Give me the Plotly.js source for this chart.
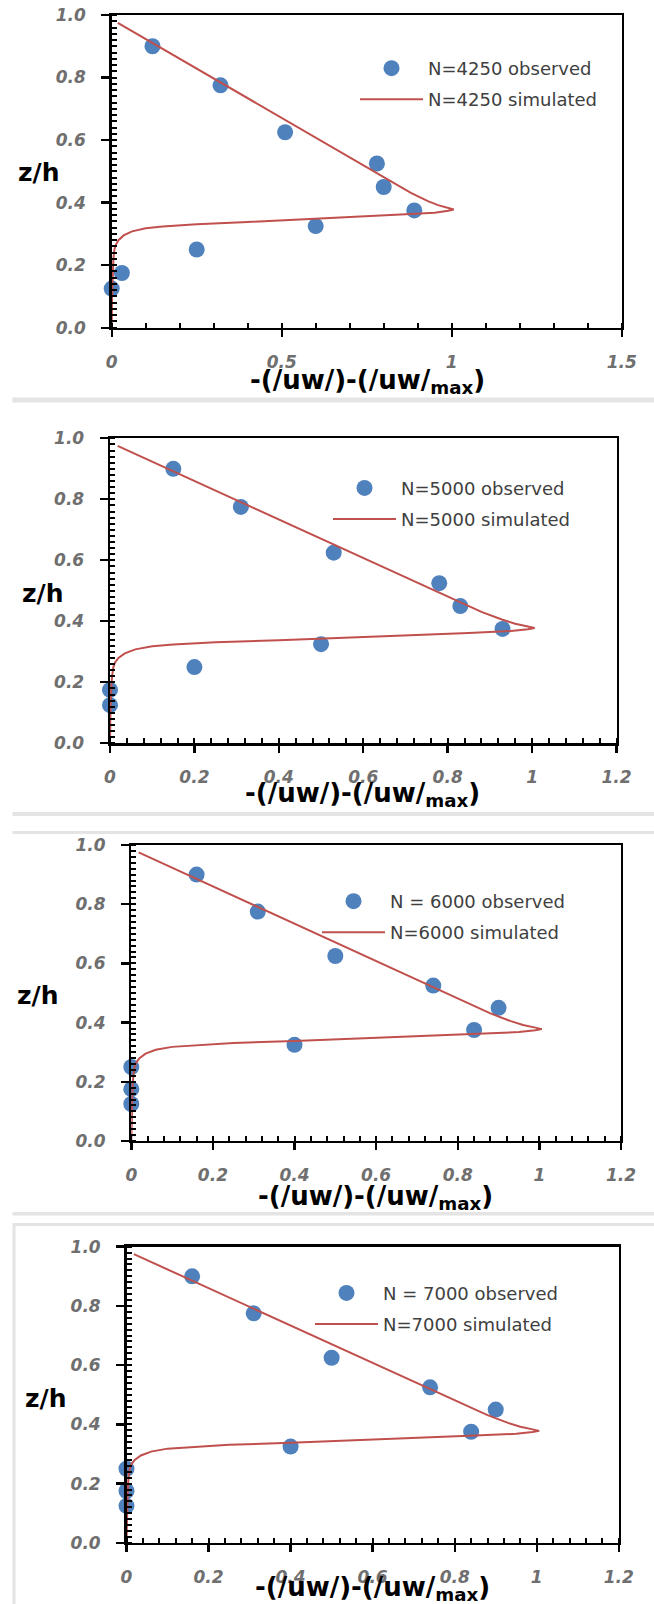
<!DOCTYPE html>
<html>
<head>
<meta charset="utf-8">
<script src="https://cdn.plot.ly/plotly-3.0.1.min.js"></script>
<style>html,body{margin:0;padding:0;background:#fff;}#chart{width:654px;height:1604px;}</style>
</head>
<body>
<div id="chart"></div>
<script>
// ---- data ----
const obsLabels = ['N=4250 observed', 'N=5000 observed', 'N = 6000 observed', 'N = 7000 observed'];
const simLabels = ['N=4250 simulated', 'N=5000 simulated', 'N=6000 simulated', 'N=7000 simulated'];

// observed z/h levels (same for every run)
const zObs = [0.9, 0.775, 0.625, 0.525, 0.45, 0.375, 0.325, 0.25, 0.175, 0.125];
const xObs4250 = [0.12, 0.32, 0.51, 0.78, 0.80, 0.89, 0.60, 0.25, 0.03, 0.0];
const xObs5000 = [0.15, 0.31, 0.53, 0.78, 0.83, 0.93, 0.50, 0.20, 0.0, 0.0];
const xObs6000 = [0.16, 0.31, 0.50, 0.74, 0.90, 0.84, 0.40, 0.0, 0.0, 0.0];
const xObs7000 = [0.16, 0.31, 0.50, 0.74, 0.90, 0.84, 0.40, 0.0, 0.0, 0.0];

// simulated profile
const simX = [0.018, 0.30, 0.60, 0.88, 0.93, 0.96, 0.99, 1.006, 0.99, 0.95, 0.85, 0.60, 0.40, 0.25, 0.15, 0.10, 0.06, 0.035, 0.02, 0.012, 0.008, 0.005, 0.003, 0.001, 0.0];
const simZ = [0.975, 0.797, 0.607, 0.431, 0.405, 0.392, 0.383, 0.378, 0.374, 0.368, 0.362, 0.348, 0.338, 0.331, 0.324, 0.318, 0.308, 0.295, 0.28, 0.265, 0.25, 0.22, 0.18, 0.10, 0.0];

const xMax = [1.5, 1.2, 1.2, 1.2];
const xDtick = [0.5, 0.2, 0.2, 0.2];
const xMinorDtick = [0.1, 0.04, 0.04, 0.04];
const yTickVals = [0, 0.2, 0.4, 0.6, 0.8, 1.0];

// ---- layout geometry (pixels) ----
const W = 654, H = 1604;
const boxes = [
  {x0: 111.7, x1: 621.7, yt: 15, yb: 327.7, lx: 355, ly: 50, tx: 38, ty: 173, ax: 367, ay: 381},
  {x0: 110, x1: 616.5, yt: 438.3, yb: 743.3, lx: 328, ly: 469.7, tx: 42, ty: 593, ax: 362.5, ay: 794},
  {x0: 131.3, x1: 621, yt: 845, yb: 1141, lx: 317, ly: 883, tx: 37, ty: 995, ax: 375, ay: 1197},
  {x0: 126.5, x1: 618.8, yt: 1246.7, yb: 1542.8, lx: 310, ly: 1274.7, tx: 45, ty: 1398, ax: 372, ay: 1588}
];
const px = v => v / W;
const py = v => 1 - v / H;

const FONT = 'DejaVu Sans';
const xObsAll = [xObs4250, xObs5000, xObs6000, xObs7000];

const traces = [];
const layout = {
  width: W, height: H,
  margin: {l: 0, r: 0, t: 0, b: 0},
  paper_bgcolor: '#ffffff', plot_bgcolor: '#ffffff',
  showlegend: true,
  annotations: [],
  shapes: []
};

boxes.forEach((b, i) => {
  const n = i === 0 ? '' : String(i + 1);
  const legName = 'legend' + n;
  traces.push({
    type: 'scatter', mode: 'markers',
    x: xObsAll[i], y: zObs,
    xaxis: 'x' + n, yaxis: 'y' + n,
    name: obsLabels[i], legend: legName, legendgroup: 'o' + i,
    marker: {color: '#4F81BD', size: 16},
    cliponaxis: false
  });
  traces.push({
    type: 'scatter', mode: 'lines',
    x: simX, y: simZ,
    xaxis: 'x' + n, yaxis: 'y' + n,
    name: simLabels[i], legend: legName, legendgroup: 's' + i,
    line: {color: '#C0504D', width: 2},
    cliponaxis: false
  });
  const tickfont = {family: FONT, size: 17, color: '#6f6f6f', weight: 'bold', style: 'italic'};
  layout['xaxis' + n] = {
    domain: [px(b.x0), px(b.x1)], anchor: 'y' + n,
    range: [0, xMax[i]], tick0: 0, dtick: xDtick[i],
    showgrid: false, zeroline: false,
    showline: true, linecolor: '#000', linewidth: 2.4, mirror: true,
    ticks: 'outside', ticklen: 7, tickwidth: 2.4, tickcolor: '#000',
    minor: {ticks: 'inside', dtick: xMinorDtick[i], tick0: 0, ticklen: 5, tickwidth: 2, tickcolor: '#000', showgrid: false},
    tickfont: tickfont, ticklabelstandoff: 10
  };
  layout['yaxis' + n] = {
    domain: [py(b.yb), py(b.yt)], anchor: 'x' + n,
    range: [0, 1], tickvals: yTickVals, tickformat: '.1f',
    showgrid: false, zeroline: false,
    showline: true, linecolor: '#000', linewidth: 2.4, mirror: true,
    ticks: 'outside', ticklen: 8, tickwidth: 2.4, tickcolor: '#000',
    minor: {ticks: 'inside', dtick: 0.02, tick0: 0, ticklen: 5, tickwidth: 2, tickcolor: '#000', showgrid: false},
    tickfont: tickfont, ticklabelstandoff: 12
  };
  layout[legName] = {
    x: px(b.lx), y: py(b.ly), xanchor: 'left', yanchor: 'top',
    bgcolor: 'rgba(0,0,0,0)', borderwidth: 0,
    itemwidth: 63, traceorder: 'grouped', tracegroupgap: 4.6,
    font: {family: FONT, size: 18, color: '#404040'}
  };
  layout.annotations.push({
    xref: 'paper', yref: 'paper', x: px(b.tx), y: py(b.ty),
    xanchor: 'center', yanchor: 'middle', showarrow: false,
    text: 'z/h', font: {family: FONT, size: 25, color: '#000', weight: 'bold'}
  });
  layout.annotations.push({
    xref: 'paper', yref: 'paper', x: px(b.ax), y: py(b.ay),
    xanchor: 'center', yanchor: 'middle', showarrow: false,
    text: '-(/uw/)-(/uw/<sub>max</sub>)', font: {family: FONT, size: 26, color: '#000', weight: 'bold'}
  });
});

// light grey separators between the stacked figures
const bands = [[397.5, 402.5], [812, 816], [831, 834], [1212, 1215.5]];
bands.forEach(bd => {
  layout.shapes.push({type: 'rect', xref: 'paper', yref: 'paper', layer: 'below',
    x0: px(12.5), x1: 1, y0: py(bd[1]), y1: py(bd[0]), fillcolor: '#e4e4e4', line: {width: 0}});
});
layout.shapes.push({type: 'rect', xref: 'paper', yref: 'paper', layer: 'below',
  x0: px(14), x1: px(660), y0: py(1610), y1: py(1224.5), fillcolor: 'rgba(0,0,0,0)', line: {color: '#e4e4e4', width: 3}});

Plotly.newPlot('chart', traces, layout, {staticPlot: true, displayModeBar: false});
</script>
</body>
</html>
